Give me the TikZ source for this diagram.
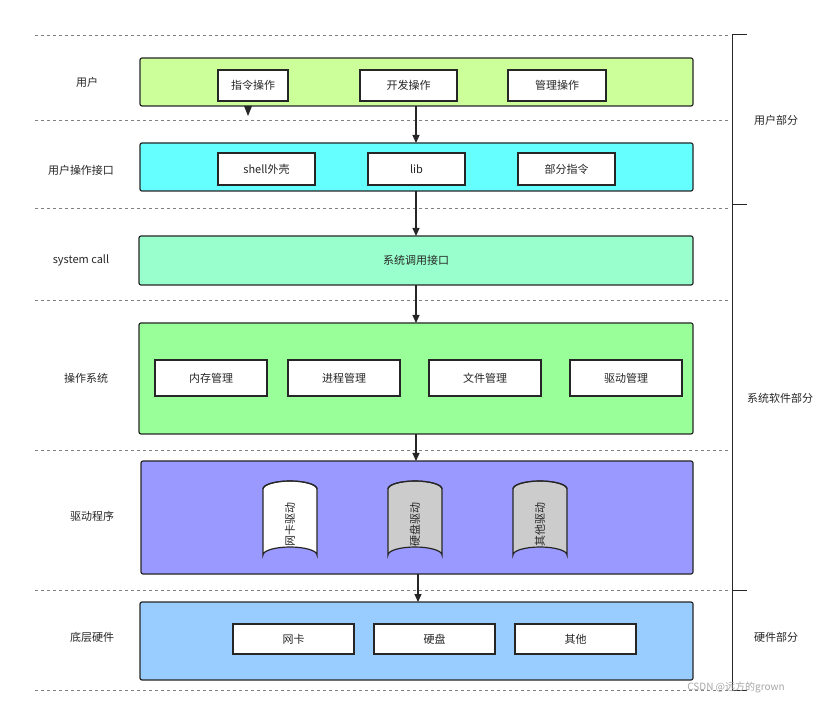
\documentclass[tikz,border=0pt]{standalone}
\usepackage{fontspec}
\setmainfont{Noto Sans CJK SC}
\usetikzlibrary{arrows.meta}
\begin{document}
\begin{tikzpicture}[x=1pt,y=-1pt,font=\fontsize{11}{13}\selectfont,
  layer/.style={draw=black!85,line width=1.2pt,rounded corners=2pt},
  inner/.style={draw=black!85,line width=1.2pt,fill=white,inner sep=0pt},
  sepline/.style={gray,dashed,line width=0.6pt},
  arr/.style={draw=black!85,line width=1.2pt,-{Triangle[length=8pt,width=7pt]}},
  lbl/.style={text=black!85}]
\useasboundingbox (0,0) rectangle (820,703);
\foreach \y in {35,120,208,300,450,590,690} \draw[sepline] (35,\y) -- (730,\y);
\draw[black!85,line width=1pt] (747,35) -- (732,35) -- (732,690) -- (747,690);
\draw[black!85,line width=1pt] (732,205) -- (747,205) (732,590) -- (747,590);
\node[lbl] (rp1) at (776,120) {用户部分};
\node[lbl] (rp2) at (780,398) {系统软件部分};
\node[lbl] (rp3) at (776,637) {硬件部分};
% layer 1
\draw[layer,fill={rgb,255:red,204;green,255;blue,153}] (140,58) rectangle (693,106);
\coordinate (l1b) at (416,106);
\node[lbl] (u) at (87,82) {用户};
\foreach \a/\b/\t/\n in {218/288/指令操作/c1,360/457/开发操作/c2,508/606/管理操作/c3}
  \draw[inner] (\a,70) rectangle (\b,101) node[midway,lbl] (\n) {\t};
\fill[black!85] (244,106) -- (252,106) -- (248,116) -- cycle;
% layer 2
\draw[layer,fill={rgb,255:red,102;green,255;blue,255}] (140,143) rectangle (693,191);
\node[lbl] (ui) at (81,170) {用户操作接口};
\foreach \a/\b/\t/\n in {218/315/shell外壳/d1,368/465/lib/d2,518/615/部分指令/d3}
  \draw[inner] (\a,153) rectangle (\b,185) node[midway,lbl] (\n) {\t};
\coordinate (l2t) at (416,143); \coordinate (l2b) at (416,191);
% layer 3
\draw[layer,fill={rgb,255:red,153;green,255;blue,204}] (139,236) rectangle (693,285) node[midway,lbl] (sc) {系统调用接口};
\node[lbl] (scl) at (81,260) {system call};
\coordinate (l3t) at (416,236); \coordinate (l3b) at (416,285);
% layer 4
\draw[layer,fill={rgb,255:red,153;green,255;blue,153}] (139,323) rectangle (693,434);
\node[lbl] (os) at (86,378) {操作系统};
\foreach \a/\b/\t/\n in {155/267/内存管理/e1,288/400/进程管理/e2,429/541/文件管理/e3,570/682/驱动管理/e4}
  \draw[inner] (\a,360) rectangle (\b,396) node[midway,lbl] (\n) {\t};
\coordinate (l4t) at (416,323); \coordinate (l4b) at (416,434);
% layer 5
\draw[layer,fill={rgb,255:red,153;green,153;blue,255}] (141,461) rectangle (693,574);
\node[lbl] (dr) at (92,516) {驱动程序};
\foreach \x/\c/\t/\n in {290/white/网卡驱动/f1,415/black!20/硬盘驱动/f2,540/black!20/其他驱动/f3}{
  \draw[draw=black!85,line width=1.2pt,fill=\c] (\x-27,489) -- (\x-27,555) arc[start angle=180,end angle=360,x radius=27,y radius=8] -- (\x+27,489) arc[start angle=0,end angle=-180,x radius=27,y radius=8];
  \draw[draw=black!85,line width=1.2pt] (\x-27,489) arc[start angle=180,end angle=360,x radius=27,y radius=8];
  \node[lbl,rotate=90] (\n) at (\x,524) {\t};
}
\coordinate (l5t) at (416,461); \coordinate (l5b) at (418,574);
% layer 6
\draw[layer,fill={rgb,255:red,153;green,204;blue,255}] (140,602) rectangle (693,680);
\node[lbl] (hw) at (92,637) {底层硬件};
\foreach \a/\b/\t/\n in {233/354/网卡/g1,374/495/硬盘/g2,515/636/其他/g3}
  \draw[inner] (\a,624) rectangle (\b,654) node[midway,lbl] (\n) {\t};
\coordinate (l6t) at (418,602);
% arrows
\draw[arr] (l1b) -- (l2t);
\draw[arr] (l2b) -- (l3t);
\draw[arr] (l3b) -- (l4t);
\draw[arr] (l4b) -- (l5t);
\draw[arr] (l5b) -- (l6t);
\node[text=black!35,font=\fontsize{10}{12}\selectfont] (wm) at (736,688) {CSDN @远方的grown};
\end{tikzpicture}
\end{document}
